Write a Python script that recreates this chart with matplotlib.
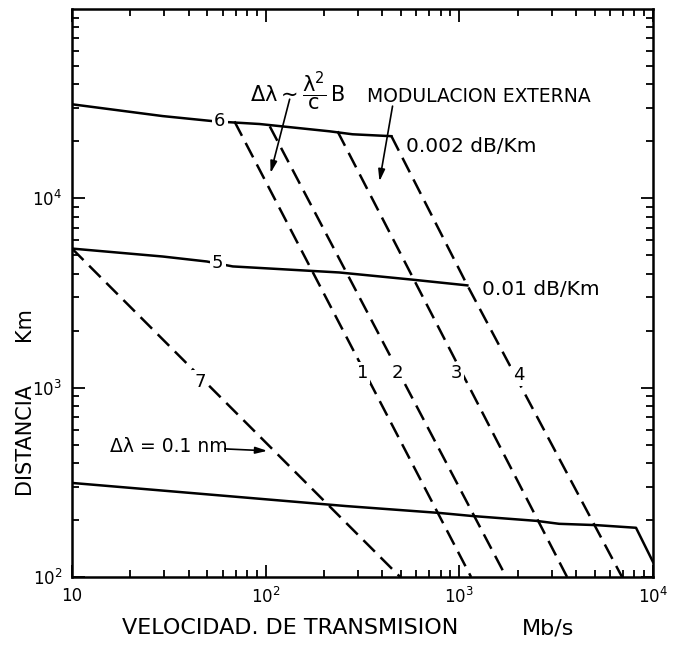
import matplotlib
matplotlib.use('Agg')
import matplotlib.pyplot as plt

plt.rcParams['mathtext.default'] = 'regular'

# curvas (velocidad Mb/s, distancia Km)
vel_6 = [10, 29.4, 55, 93, 214, 281, 446]
dist_6 = [31400, 27200, 25500, 24700, 22600, 21800, 21300]

vel_5 = [10, 29.4, 49.7, 67.6, 240, 573, 1100]
dist_5 = [5430, 4930, 4640, 4370, 4060, 3720, 3470]

vel_inf = [10, 260, 789, 1167, 2495, 3275, 5080, 8170, 10000]
dist_inf = [314, 237, 218, 210, 198, 191, 188, 182, 120]

vel_1 = [69, 1150]
dist_1 = [25500, 100]
vel_2 = [105, 1746]
dist_2 = [24000, 100]
vel_3 = [235, 3600]
dist_3 = [22600, 100]
vel_4 = [446, 1100, 6920]
dist_4 = [21300, 3470, 100]
vel_7 = [10, 495]
dist_7 = [5430, 100]

xticks = [10, 100, 1000, 10000]
xlabels = ['10', '$10^2$', '$10^3$', '$10^4$']
yticks = [100, 1000, 10000]
ylabels = ['$10^2$', '$10^3$', '$10^4$']

fig = plt.figure(figsize=(6.76, 6.45), dpi=100)
ax = fig.add_axes([0.1065, 0.1054, 0.8595, 0.8806])
ax.set_xscale('log')
ax.set_yscale('log')
ax.set_xlim(10, 10000)
ax.set_ylim(100, 100000)

lw = 1.8
ax.plot(vel_6, dist_6, color='black', lw=lw)
ax.plot(vel_5, dist_5, color='black', lw=lw)
ax.plot(vel_inf, dist_inf, color='black', lw=lw)
for v, d in [(vel_1, dist_1), (vel_2, dist_2), (vel_3, dist_3),
             (vel_4, dist_4), (vel_7, dist_7)]:
    ax.plot(v, d, color='black', lw=lw, dashes=(6.5, 3.2))

# etiquetas de las curvas
caja = dict(facecolor='white', edgecolor='none', pad=1.5)
for t, x, y in [('6', 58, 25500), ('5', 56.6, 4580), ('7', 45.7, 1077),
                ('1', 316, 1199), ('2', 479, 1199), ('3', 966, 1199),
                ('4', 2037, 1172)]:
    ax.text(x, y, t, fontsize=13, ha='center', va='center', bbox=caja)

ax.text(533, 18800, '0.002 dB/Km', fontsize=14.5, va='center')
ax.text(1315, 3300, '0.01 dB/Km', fontsize=14.5, va='center')
ax.text(332, 34700, 'MODULACION EXTERNA', fontsize=13.5, va='center')
ax.text(82.8, 37000, r'$\Delta\lambda\sim\dfrac{\lambda^2}{c}\,B$',
        fontsize=15, va='center')
ax.text(15.7, 488, 'Δλ = 0.1 nm', fontsize=13.5, va='center')

flecha = dict(arrowstyle='-|>,head_width=0.2,head_length=0.7', color='black',
              lw=1.2, shrinkA=0, shrinkB=0)
ax.annotate('', xy=(106, 13600), xytext=(133, 33400), arrowprops=flecha)
ax.annotate('', xy=(387, 12300), xytext=(452, 30700), arrowprops=flecha)
ax.annotate('', xy=(102, 464), xytext=(61.5, 475), arrowprops=flecha)

ax.set_xticks(xticks)
ax.set_xticklabels(xlabels)
ax.set_yticks(yticks)
ax.set_yticklabels(ylabels)
ax.tick_params(which='both', direction='in', top=True, right=True,
               width=1.3, labelsize=12)
ax.tick_params(which='major', length=9, pad=7)
ax.tick_params(which='minor', length=5)
for s in ax.spines.values():
    s.set_linewidth(1.8)

fig.text(290 / 676, 1 - 628 / 645, 'VELOCIDAD. DE TRANSMISION', fontsize=16,
         ha='center', va='center')
fig.text(548 / 676, 1 - 628 / 645, 'Mb/s', fontsize=16, ha='center',
         va='center')
fig.text(24 / 676, 1 - 438 / 645, 'DISTANCIA', fontsize=15, rotation=90,
         ha='center', va='center')
fig.text(24 / 676, 1 - 324 / 645, 'Km', fontsize=15, rotation=90,
         ha='center', va='center')

fig.savefig('out.png')
